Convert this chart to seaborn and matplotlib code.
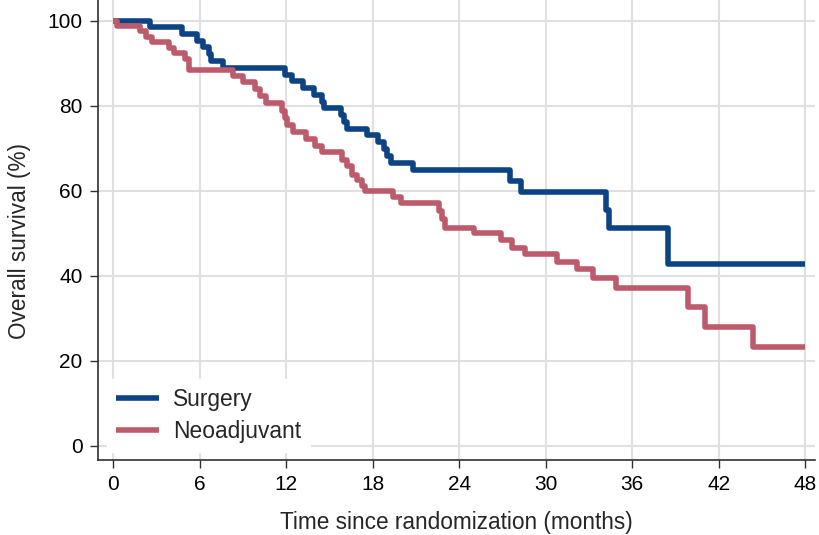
import matplotlib
matplotlib.use("Agg")
import matplotlib.pyplot as plt
import pandas as pd
import seaborn as sns

# Kaplan-Meier step levels: month at which each level starts, and survival (%)
surgery_months = [0, 2.57, 4.76, 5.8, 6.25, 6.65, 6.8, 7.6, 11.9, 12.4, 13.2, 13.95,
                  14.5, 14.65, 15.8, 16.0, 16.2, 17.6, 18.4, 18.8, 19.0, 19.3, 20.8,
                  27.5, 28.3, 34.2, 34.4, 38.5, 48.0]
surgery_os = [100, 98.4, 96.8, 95.3, 93.8, 92.2, 90.6, 88.9, 87.3, 85.7, 84.1, 82.5,
              80.9, 79.4, 77.8, 76.2, 74.6, 73.0, 71.4, 69.8, 68.2, 66.6, 64.8,
              62.3, 59.8, 55.5, 51.2, 42.7, 42.7]

neoadj_months = [0, 0.3, 1.9, 2.3, 2.7, 3.9, 4.2, 5.0, 5.3, 8.35, 9.0, 9.85, 10.2,
                 10.6, 11.7, 11.9, 12.1, 12.5, 13.4, 14.0, 14.5, 15.86, 16.2, 16.55,
                 16.9, 17.25, 17.48, 19.45, 20.0, 22.6, 22.8, 23.0, 25.0, 26.9, 27.7,
                 28.6, 30.8, 32.2, 33.3, 34.9, 39.9, 41.05, 44.4, 48.0]
neoadj_os = [100, 98.8, 97.5, 96.2, 94.9, 93.6, 92.3, 90.9, 88.4, 87.1, 85.6, 84.0,
             82.3, 80.6, 78.8, 77.0, 75.4, 73.9, 72.2, 70.6, 69.0, 67.3, 65.7, 63.8,
             62.6, 61.1, 60.0, 58.6, 57.0, 55.3, 53.3, 51.3, 50.0, 48.3, 46.6, 45.0,
             43.3, 41.5, 39.5, 37.2, 32.6, 27.9, 23.2, 23.2]

groups = ["Surgery", "Neoadjuvant"]
colors = ["#0b4385", "#bd5a6b"]
x_ticks = [0, 6, 12, 18, 24, 30, 36, 42, 48]
y_ticks = [0, 20, 40, 60, 80, 100]

df = pd.concat([
    pd.DataFrame({"month": surgery_months, "os": surgery_os, "arm": groups[0]}),
    pd.DataFrame({"month": neoadj_months, "os": neoadj_os, "arm": groups[1]}),
], ignore_index=True)

sns.set_style("white")
plt.rcParams["font.family"] = ["Liberation Sans", "DejaVu Sans"]

fig = plt.figure(figsize=(8.19, 5.35), dpi=100)
W, H = 819, 535
ax = fig.add_axes([98 / W, 75 / H, (815 - 98) / W, 460 / H])

sns.lineplot(data=df, x="month", y="os", hue="arm", hue_order=groups,
             palette=dict(zip(groups, colors)), estimator=None,
             drawstyle="steps-post", linewidth=4.0, ax=ax, zorder=3,
             solid_capstyle="butt")

ax.set_xlim(-1.04, 48.68)
ax.set_ylim(-3.36, 104.87)
ax.set_xticks(x_ticks)
ax.set_yticks(y_ticks)
ax.grid(True, color="#e0e0e0", linewidth=1.5, zorder=0)
ax.set_axisbelow(True)

for s in ["top", "right"]:
    ax.spines[s].set_visible(False)
for s in ["left", "bottom"]:
    ax.spines[s].set_color("#303030")
    ax.spines[s].set_linewidth(1.2)

ax.tick_params(axis="both", which="major", labelsize=15, length=6, width=1.0,
               color="#303030", labelcolor="black", pad=5, left=True, bottom=True)
ax.set_xlabel("Time since randomization (months)", fontsize=16.3, labelpad=12)
ax.set_ylabel("Overall survival (%)", fontsize=16.3)
ax.yaxis.set_label_coords(-0.094, 0.477)

handles, labels = ax.get_legend_handles_labels()
leg = ax.legend(handles, labels, loc="lower left",
                bbox_to_anchor=(0.0126, 0.0174), borderaxespad=0,
                frameon=True, fancybox=False, framealpha=1,
                edgecolor="white", facecolor="white", fontsize=16.4,
                handlelength=1.9, handletextpad=0.6, labelspacing=0.4,
                borderpad=0.4)
leg.set_zorder(5)

fig.savefig("out.png", dpi=100)
